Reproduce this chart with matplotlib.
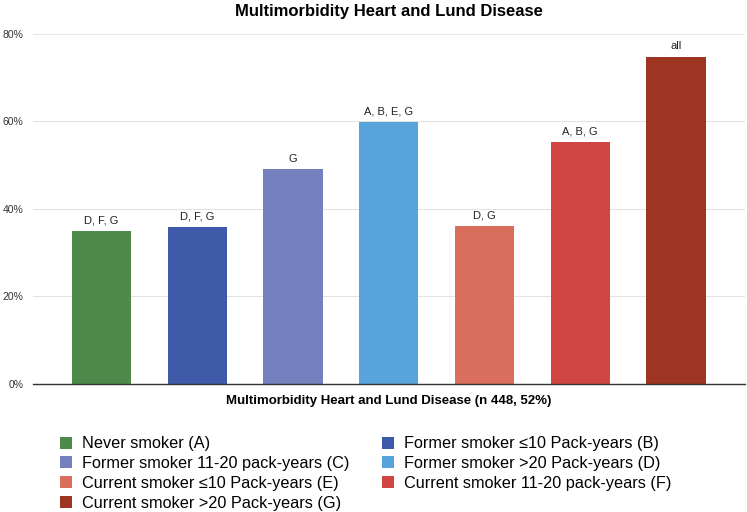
import matplotlib
matplotlib.use("Agg")
import matplotlib.pyplot as plt
from matplotlib.ticker import PercentFormatter

plt.rcParams["font.family"] = ["Liberation Sans", "DejaVu Sans"]

# data
groups = [
    "Never smoker (A)",
    "Former smoker \u226410 Pack-years (B)",
    "Former smoker 11-20 pack-years (C)",
    "Former smoker >20 Pack-years (D)",
    "Current smoker \u226410 Pack-years (E)",
    "Current smoker 11-20 pack-years (F)",
    "Current smoker >20 Pack-years (G)",
]
values = [35.0, 35.8, 49.1, 59.9, 36.1, 55.3, 74.8]
sig_labels = ["D, F, G", "D, F, G", "G", "A, B, E, G", "D, G", "A, B, G", "all"]
colors = ["#4E8B4A", "#3F5AA8", "#7480BE", "#56A4DB", "#D96E5C", "#D14542", "#9E3522"]

title = "Multimorbidity Heart and Lund Disease"
xlabel = "Multimorbidity Heart and Lund Disease (n 448, 52%)"

fig = plt.figure(figsize=(7.47, 5.12), dpi=100)
ax = fig.add_axes([0.0442, 0.25, 0.953, 0.6836])

x = list(range(len(values)))
bars = ax.bar(x, values, width=0.62, color=colors, label=groups, zorder=2)

for b, txt in zip(bars, sig_labels):
    ax.annotate(txt, (b.get_x() + b.get_width() / 2, b.get_height()),
                xytext=(0, 4), textcoords="offset points",
                ha="center", va="bottom", fontsize=8, color="#222222")

ax.set_xlim(-0.715, 6.72)
ax.set_ylim(0, 80)
ax.set_yticks([0, 20, 40, 60, 80])
ax.yaxis.set_major_formatter(PercentFormatter(decimals=0))
ax.tick_params(axis="y", length=0, labelsize=7.5, pad=7, labelcolor="#333333")
ax.set_xticks([])
ax.grid(axis="y", color="#e3e3e3", linewidth=0.8, zorder=0)
for s in ["left", "right", "top"]:
    ax.spines[s].set_visible(False)
ax.spines["bottom"].set_color("#333333")
ax.spines["bottom"].set_linewidth(1.0)
ax.spines["bottom"].set_zorder(3)

ax.set_xlabel(xlabel, fontsize=9.5, fontweight="bold", labelpad=8)
fig.suptitle(title, x=0.521, y=0.992, fontsize=12, fontweight="bold")

# legend is filled row by row in the reference; matplotlib fills columns
order = [0, 2, 4, 6, 1, 3, 5]
handles = [bars[i] for i in order]
labels = [groups[i] for i in order]
fig.legend(handles, labels, ncol=2, loc="upper left",
           bbox_to_anchor=(0.080, 0.148), frameon=False,
           fontsize=11.7, handlelength=0.75, handleheight=0.75,
           handletextpad=0.6, labelspacing=0.3, columnspacing=2.0,
           borderaxespad=0, borderpad=0)

fig.savefig("out.png", dpi=100)
